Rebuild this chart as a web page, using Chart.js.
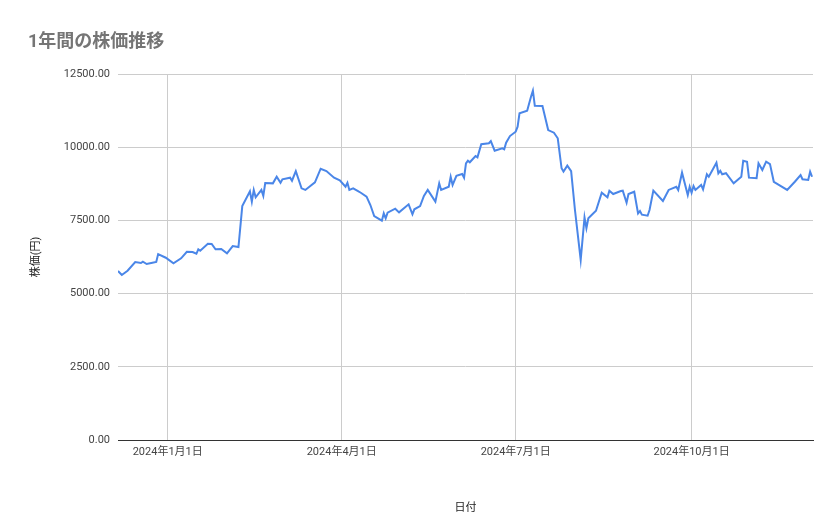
<!DOCTYPE html>
<html><head><meta charset="utf-8">
<script src="https://cdn.jsdelivr.net/npm/chart.js@4/dist/chart.umd.min.js"></script>
<style>html,body{margin:0;padding:0;background:#fff}#w{width:839px;height:519px;position:relative}</style>
</head><body><div id="w"><canvas id="c"></canvas></div>
<script>
// days since 2023-12-06
const days = [0,2,5,9,12,13,15,18,20,21,25,29,33,36,39,41,42,43,47,49,51,54,57,60,63,65,69,70,71,72,75,76,77,81,83,85,86,90,91,93,96,98,103,106,109,113,116,119,120,121,123,126,127,130,132,134,138,139,140,141,145,147,152,154,155,158,160,162,166,168,169,173,174,175,177,180,181,182,183,184,187,188,190,194,195,197,201,202,203,205,208,209,210,214,216,217,218,222,225,228,230,232,233,235,237,239,242,244,245,246,250,253,256,257,259,263,264,266,267,270,272,273,274,277,278,280,285,288,292,293,295,298,299,300,301,302,305,306,308,309,313,314,315,316,318,322,326,327,329,330,334,335,337,339,341,343,350,354,357,358,361,362,363];
const prices = [5770,5635,5780,6080,6045,6090,6010,6055,6080,6350,6225,6035,6205,6430,6420,6360,6515,6465,6705,6695,6515,6525,6375,6625,6590,7990,8495,8140,8540,8290,8540,8335,8775,8765,8990,8785,8905,8960,8855,9185,8595,8540,8800,9265,9185,8960,8870,8650,8785,8540,8595,8480,8445,8310,8025,7650,7490,7740,7570,7765,7900,7775,8050,7710,7880,7990,8335,8540,8140,8765,8540,8650,8990,8710,9025,9085,8960,9450,9540,9485,9700,9655,10100,10135,10210,9880,9960,9930,10155,10380,10530,10700,11160,11245,11725,11930,11415,11405,10585,10495,10305,9280,9165,9370,9185,7855,6150,7605,7230,7570,7830,8445,8290,8515,8400,8505,8515,8105,8400,8480,7740,7820,7695,7660,7855,8515,8165,8540,8650,8540,9130,8365,8650,8445,8675,8540,8710,8560,9075,8990,9470,9110,9195,9075,9110,8765,8990,9540,9505,8960,8940,9450,9220,9505,9425,8820,8540,8820,9050,8905,8880,9165,8990];
const xTickDays = [26,117,208,300];
const xTickLabels = ['2024年1月1日','2024年4月1日','2024年7月1日','2024年10月1日'];
const yTicks = [0,2500,5000,7500,10000,12500];
const titleText = '1年間の株価推移';
const yTitle = '株価(円)';
const xTitle = '日付';

const titlePlugin = {id:'tt',afterDraw(ch){const c=ch.ctx;c.save();c.font='bold 18px Roboto, "Noto Sans CJK JP", sans-serif';c.fillStyle='#757575';c.textBaseline='alphabetic';c.fillText(titleText,28,47);c.restore();}};
const font = {family:'Roboto, "Noto Sans CJK JP", sans-serif',size:11};
new Chart(document.getElementById('c'),{
 type:'line',
 data:{datasets:[{data:days.map((d,i)=>({x:d,y:prices[i]})),borderColor:'#4a86e8',borderWidth:2,pointRadius:0,tension:0,fill:false}]},
 options:{responsive:true,maintainAspectRatio:false,animation:false,
  layout:{padding:{top:74,right:26,left:26,bottom:0}},
  plugins:{legend:{display:false},tooltip:{enabled:false}},
  scales:{
   x:{type:'linear',min:0,max:363.5,
     afterBuildTicks(s){s.ticks=xTickDays.map(v=>({value:v}));},
     afterFit(s){s.height=79;},
     ticks:{autoSkip:false,maxRotation:0,color:'#444',font,padding:6,callback:(v)=>xTickLabels[xTickDays.indexOf(v)]},
     grid:{color:'#cccccc',drawTicks:false},border:{display:true,color:'#333'},
     title:{display:true,text:xTitle,color:'#222',font:{...font,size:11},padding:{top:18}}},
   y:{min:0,max:12500,
     afterBuildTicks(s){s.ticks=yTicks.map(v=>({value:v}));},
     afterFit(s){s.width=92;},
     ticks:{color:'#444',font,padding:8,callback:v=>v.toFixed(2)},
     grid:{color:'#cccccc',drawTicks:false},border:{display:false},
     title:{display:true,text:yTitle,color:'#222',font:{...font,size:11},padding:{bottom:4}}}
  }},
 plugins:[titlePlugin]
});
</script></body></html>
